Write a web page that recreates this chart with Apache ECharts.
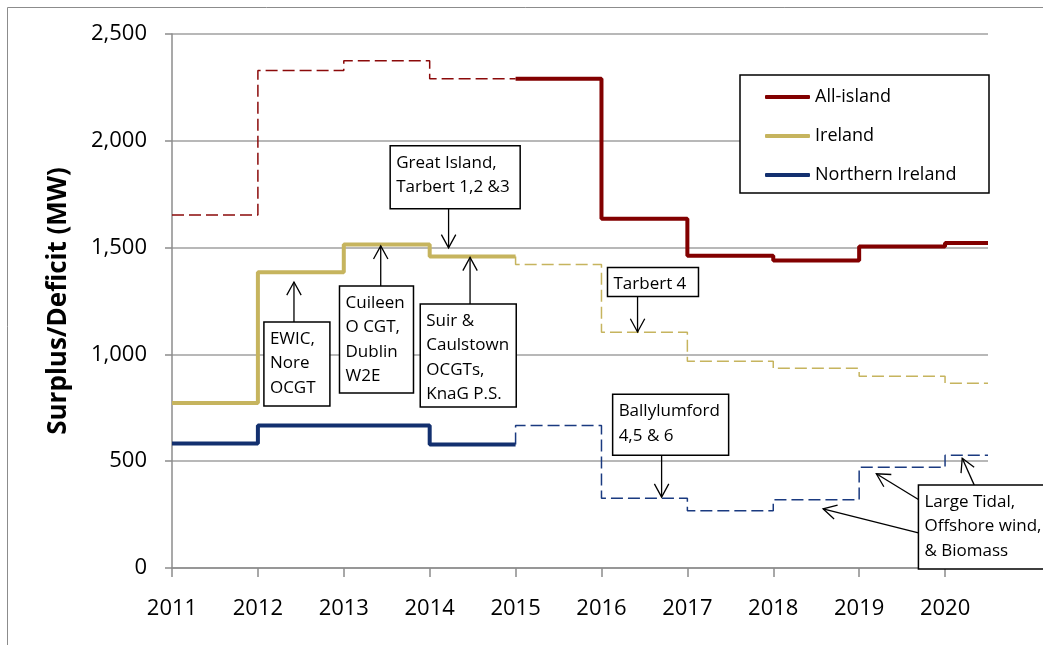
<!DOCTYPE html>
<html>
<head>
<meta charset="utf-8">
<script src="https://cdn.jsdelivr.net/npm/echarts@6/dist/echarts.min.js"></script>
<style>
  html, body { margin: 0; padding: 0; background: #fff; }
  #chart { width: 1043px; height: 645px; }
</style>
</head>
<body>
<div id="chart"></div>
<script>
// each value holds from its year until the next one
var years = [2011, 2012, 2013, 2014, 2015, 2016, 2017, 2018, 2019, 2020];
var endYear = 2020.5;
var splitYear = 2015;   // solid/dashed switch
var allIsland = [1653, 2329, 2375, 2290, 2290, 1635, 1462, 1440, 1505, 1521];
var ireland = [773, 1385, 1514, 1458, 1421, 1104, 968, 935, 898, 865];
var northernIreland = [583, 667, 667, 578, 667, 327, 268, 319, 472, 528];
var yTicks = [0, 500, 1000, 1500, 2000, 2500];

// call-out boxes, anchored in data coords
var notes = [
  { lines: ['Great Island,', 'Tarbert 1,2 &3'], box: [2013.54, 1977], size: [130, 63],
    arrows: [[[2014.22, 1683], [2014.22, 1499]]] },
  { lines: ['EWIC,', 'Nore', 'OCGT'], box: [2012.07, 1152], size: [66, 84],
    arrows: [[[2012.42, 1152], [2012.42, 1339]]] },
  { lines: ['Cuileen', 'O CGT,', 'Dublin', 'W2E'], box: [2012.95, 1320], size: [74, 107],
    arrows: [[[2013.43, 1320], [2013.43, 1508]]] },
  { lines: ['Suir &', 'Caulstown', 'OCGTs,', 'KnaG P.S.'], box: [2013.89, 1236], size: [96, 103],
    arrows: [[[2014.47, 1236], [2014.47, 1454]]] },
  { lines: ['Tarbert 4'], box: [2016.07, 1407], size: [91, 29],
    arrows: [[[2016.42, 1272], [2016.42, 1105]]] },
  { lines: ['Ballylumford', '4,5 & 6'], box: [2016.13, 813], size: [116, 61],
    arrows: [[[2016.70, 529], [2016.70, 332]]] },
  { lines: ['Large Tidal,', 'Offshore wind,', '& Biomass'], box: [2019.69, 388], size: [130, 84],
    arrows: [[[2019.69, 165], [2018.58, 277]],
             [[2019.69, 321], [2019.20, 441]],
             [[2020.34, 388], [2020.20, 514]]] }
];

var FONT = '"Open Sans", "DejaVu Sans", sans-serif';

function splitParts(vals) {
  var pts = years.map(function (y, i) { return [y, vals[i]]; });
  pts.push([endYear, vals[vals.length - 1]]);
  var k = years.indexOf(splitYear);
  return {
    before: pts.slice(0, k).concat([[splitYear, vals[k - 1]]]),
    after: [[splitYear, vals[k - 1]]].concat(pts.slice(k))
  };
}

function stepLine(name, pts, color, solid) {
  return {
    name: name,
    type: 'line',
    step: 'end',
    data: pts,
    symbol: 'none',
    silent: true,
    z: solid ? 4 : 3,
    itemStyle: { color: color },
    lineStyle: { color: color, width: solid ? 4 : 1.5, type: solid ? 'solid' : [12, 5] }
  };
}

var ai = splitParts(allIsland);
var ie = splitParts(ireland);
var ni = splitParts(northernIreland);

var chart = echarts.init(document.getElementById('chart'));

var option = {
  animation: false,
  backgroundColor: '#fff',
  grid: { left: 172, right: 55, top: 34, bottom: 77 },
  graphic: [{
    type: 'rect', silent: true, z: -10,
    shape: { x: 7.5, y: 7.5, width: 1100, height: 700 },
    style: { fill: null, stroke: '#8c8c8c', lineWidth: 1 }
  }],
  legend: {
    data: ['All-island', 'Ireland', 'Northern Ireland'],
    orient: 'vertical',
    left: 740, top: 75,
    icon: 'roundRect',
    itemWidth: 45, itemHeight: 4,
    itemGap: 19,
    padding: [12, 10, 8, 25],
    backgroundColor: '#fff',
    borderColor: '#000',
    borderWidth: 1.5,
    borderRadius: 0,
    textStyle: { fontFamily: FONT, fontSize: 18, color: '#000', lineHeight: 20, width: 164 }
  },
  xAxis: {
    type: 'value',
    min: 2011, max: endYear, interval: 1,
    axisLine: { lineStyle: { color: '#8c8c8c', width: 1.5 } },
    axisTick: { customValues: years, length: 9, lineStyle: { color: '#8c8c8c', width: 1.5 } },
    axisLabel: {
      customValues: years, margin: 30,
      fontFamily: FONT, fontSize: 22, color: '#000',
      formatter: function (v) { return String(v); }
    },
    splitLine: { show: false }
  },
  yAxis: {
    type: 'value',
    min: 0, max: 2500, interval: 500,
    name: 'Surplus/Deficit (MW)',
    nameLocation: 'middle',
    nameGap: 100,
    nameTextStyle: { fontFamily: FONT, fontSize: 26, fontWeight: 'bold', color: '#000' },
    axisLine: { show: true, lineStyle: { color: '#8c8c8c', width: 1.5 } },
    axisTick: { show: true, length: 7, lineStyle: { color: '#8c8c8c', width: 1.5 } },
    axisLabel: {
      margin: 25, fontFamily: FONT, fontSize: 22, color: '#000',
      formatter: function (v) { return yTicks.indexOf(v) >= 0 ? v.toLocaleString('en-US') : ''; }
    },
    splitLine: { lineStyle: { color: '#a0a0a0', width: 1.5 } }
  },
  series: [
    stepLine('All-island', ai.after, '#820000', true),
    stepLine('Ireland', ie.before, '#c6b45e', true),
    stepLine('Northern Ireland', ni.before, '#13306f', true),
    stepLine('All-island', ai.before, '#8b0a0a', false),
    stepLine('Ireland', ie.after, '#c6b45e', false),
    stepLine('Northern Ireland', ni.after, '#1a3a80', false),
    {
      type: 'custom',
      coordinateSystem: 'cartesian2d',
      silent: true,
      clip: false,
      z: 10,
      data: notes.map(function (n) { return n.box; }),
      encode: { x: 0, y: 1 },
      renderItem: function (params, api) {
        var n = notes[params.dataIndex];
        var tl = api.coord(n.box);
        var kids = [];
        n.arrows.forEach(function (a) {
          var p0 = api.coord(a[0]), p1 = api.coord(a[1]);
          var ang = Math.atan2(p1[1] - p0[1], p1[0] - p0[0]);
          var L = 15, W = 0.5;
          kids.push({
            type: 'line',
            shape: { x1: p0[0], y1: p0[1], x2: p1[0], y2: p1[1] },
            style: { stroke: '#000', lineWidth: 1.3 }
          });
          kids.push({
            type: 'polyline',
            shape: { points: [
              [p1[0] - L * Math.cos(ang - W), p1[1] - L * Math.sin(ang - W)],
              [p1[0], p1[1]],
              [p1[0] - L * Math.cos(ang + W), p1[1] - L * Math.sin(ang + W)]
            ] },
            style: { stroke: '#000', lineWidth: 1.3, fill: null }
          });
        });
        kids.push({
          type: 'rect',
          shape: { x: tl[0], y: tl[1], width: n.size[0], height: n.size[1] },
          style: { fill: '#fff', stroke: '#000', lineWidth: 1.5 }
        });
        kids.push({
          type: 'text',
          style: {
            text: n.lines.join('\n'),
            x: tl[0] + 6, y: tl[1] + 4.75,
            fontFamily: FONT, fontSize: 17, lineHeight: 24.5,
            fill: '#000', verticalAlign: 'top', align: 'left'
          }
        });
        return { type: 'group', children: kids };
      }
    }
  ]
};

chart.setOption(option);
</script>
</body>
</html>
